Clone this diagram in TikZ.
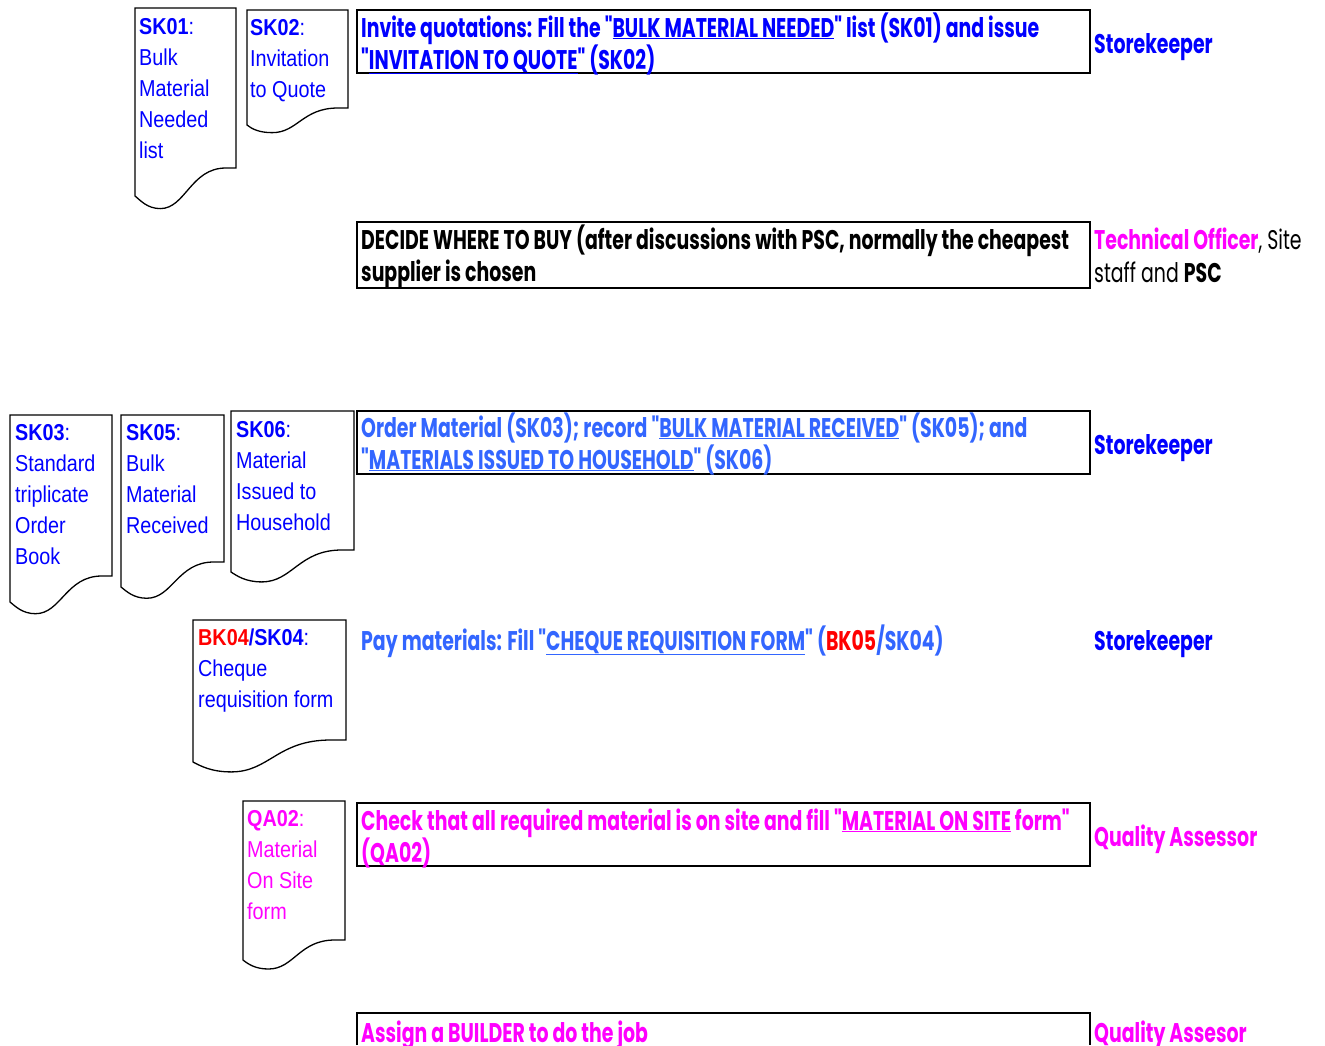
\documentclass[tikz,border=0pt]{standalone}
\usepackage{fontspec}
\setmainfont{Liberation Sans}
\newfontfamily\docfont[FakeStretch=0.86]{Liberation Sans}
\newfontfamily\taskfont[FakeStretch=0.7]{Poppins}
\definecolor{docblue}{HTML}{0000FF}
\definecolor{paleblue}{HTML}{3366FF}
\definecolor{qamag}{HTML}{FF00FF}
\definecolor{bkred}{HTML}{FF0000}
% document symbol: left x, top y, right x, right bottom y, left bottom y
\newcommand{\docshape}[5]{%
\pgfmathsetmacro{\dw}{#3-#1}%
\pgfmathsetmacro{\dlow}{#5+0.45*(#5-#4)}%
\draw[docline] (#1,#2) -- (#3,#2) -- (#3,#4) -- ({#3-0.1*\dw},#4)
 .. controls ({#1+0.55*\dw},#4) and ({#1+0.5*\dw},\dlow) .. ({#1+0.25*\dw},\dlow)
 .. controls ({#1+0.12*\dw},\dlow) and ({#1+0.05*\dw},{#5+4}) .. (#1,#5) -- cycle;}
\begin{document}
\begin{tikzpicture}[x=1pt,y=-1pt,
 docline/.style={draw=black,line width=1.3pt},
 doctext/.style={anchor=base west,inner sep=0pt,align=left,text=docblue,font=\docfont\fontsize{23}{31}\selectfont},
 taskbox/.style={draw=black,line width=2.8pt},
 tasktext/.style={anchor=base west,inner sep=0pt,align=left,font=\taskfont\bfseries\fontsize{27}{32}\selectfont},
 roletext/.style={anchor=base west,inner sep=0pt,align=left,font=\taskfont\bfseries\fontsize{27}{33}\selectfont}]
\useasboundingbox (0,0) rectangle (1325,1045);
%documents (text placed by the baseline of its last line)
\docshape{135}{8}{236}{168}{196}
\node[doctext] (sk01) at (139,158) {\textbf{SK01}:\\Bulk\\Material\\Needed\\list};
\docshape{247}{10}{348}{108}{125}
\node[doctext] (sk02) at (250,97) {\textbf{SK02}:\\Invitation\\to Quote};
\docshape{10}{415}{112}{576}{602}
\node[doctext] (sk03) at (15,564) {\textbf{SK03}:\\Standard\\triplicate\\Order\\Book};
\docshape{121}{415}{224}{562}{587}
\node[doctext] (sk05) at (126,533) {\textbf{SK05}:\\Bulk\\Material\\Received};
\docshape{231}{411}{354}{550}{572}
\node[doctext] (sk06) at (236,530) {\textbf{SK06}:\\Material\\Issued to\\Household};
\docshape{193}{620}{346}{740}{762}
\node[doctext] (sk04) at (198,707) {\textbf{\textcolor{bkred}{BK04}/SK04}:\\Cheque\\requisition form};
\docshape{243}{801}{345}{940}{960}
\node[doctext,text=qamag] (qa02) at (247,919) {\textbf{QA02}:\\Material\\On Site\\form};
%activities
\draw[taskbox] (357,10) rectangle (1090,73);
\node[tasktext,text=docblue] (invite) at (361,69) {Invite quotations: Fill the "\underline{BULK MATERIAL NEEDED}" list (SK01) and issue\\"\underline{INVITATION TO QUOTE}" (SK02)};
\draw[taskbox] (357,222) rectangle (1090,288);
\node[tasktext] (decide) at (361,281) {DECIDE WHERE TO BUY (after discussions with PSC, normally the cheapest\\supplier is chosen};
\draw[taskbox] (357,411) rectangle (1090,474);
\node[tasktext,text=paleblue] (order) at (361,469) {Order Material (SK03); record "\underline{BULK MATERIAL RECEIVED}" (SK05); and\\"\underline{MATERIALS ISSUED TO HOUSEHOLD}" (SK06)};
\node[tasktext,text=paleblue] (pay) at (361,650) {Pay materials: Fill "\underline{CHEQUE REQUISITION FORM}" (\textcolor{bkred}{BK05}/SK04)};
\draw[taskbox] (357,803) rectangle (1090,866);
\node[tasktext,text=qamag] (check) at (361,862) {Check that all required material is on site and fill "\underline{MATERIAL ON SITE} form"\\(QA02)};
\draw[taskbox] (357,1045) -- (357,1013) -- (1090,1013) -- (1090,1045);
\node[tasktext,text=qamag] (assign) at (361,1042) {Assign a BUILDER to do the job};
%roles
\node[roletext,text=docblue] (role1) at (1094,53) {Storekeeper};
\node[roletext] (role2) at (1094,282) {\textcolor{qamag}{Technical Officer}\mdseries, Site\\\mdseries staff and \bfseries PSC};
\node[roletext,text=docblue] (role3) at (1094,454) {Storekeeper};
\node[roletext,text=docblue] (role4) at (1094,650) {Storekeeper};
\node[roletext,text=qamag] (role5) at (1094,846) {Quality Assessor};
\node[roletext,text=qamag] (role6) at (1094,1042) {Quality Assesor};
\end{tikzpicture}
\end{document}
